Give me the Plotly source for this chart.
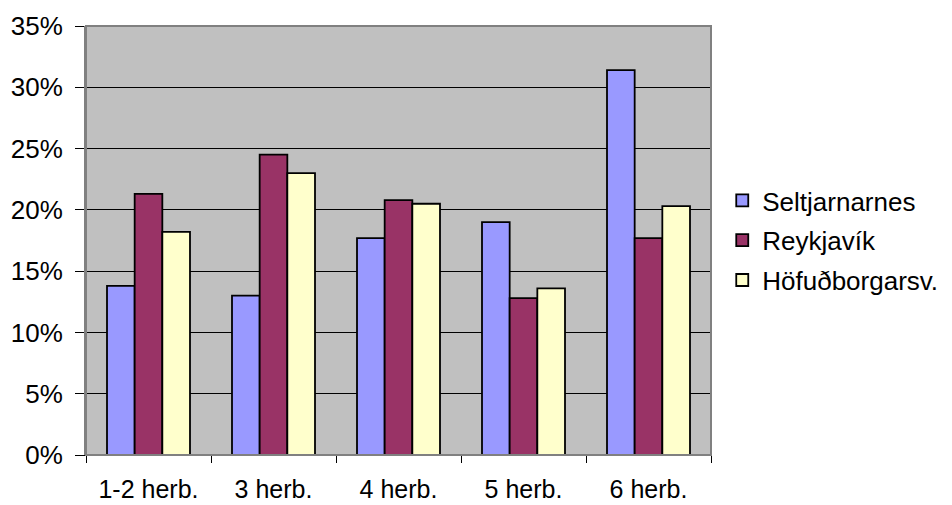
import plotly.graph_objects as go

categories = ["1-2 herb.", "3 herb.", "4 herb.", "5 herb.", "6 herb."]
seltjarnarnes = [13.8, 13.0, 17.7, 19.0, 31.4]
reykjavik = [21.3, 24.5, 20.8, 12.8, 17.7]
hofudborgarsv = [18.2, 23.0, 20.5, 13.6, 20.3]
y_ticks = [0, 5, 10, 15, 20, 25, 30, 35]
y_tick_labels = [f"{v}%" for v in y_ticks]

series = [
    ("Seltjarnarnes", seltjarnarnes, "#9999FF"),
    ("Reykjavík", reykjavik, "#993366"),
    ("Höfuðborgarsv.", hofudborgarsv, "#FFFFCC"),
]

fig = go.Figure()
for i, (name, vals, col) in enumerate(series):
    fig.add_trace(go.Bar(
        x=categories, y=vals, name=name, legendgroup=f"g{i}",
        marker=dict(color=col, line=dict(color="black", width=1.8)),
    ))

font_family = "Arial, Liberation Sans, sans-serif"
fig.update_layout(
    width=944, height=497,
    margin=dict(l=78, r=241, t=18, b=50, autoexpand=False),
    paper_bgcolor="white", plot_bgcolor="#C0C0C0",
    barmode="group", bargap=0.336, bargroupgap=0,
    font=dict(family=font_family, size=26, color="black"),
    showlegend=True,
    legend=dict(x=1.018, y=0.50, xanchor="left", yanchor="middle",
                font=dict(size=26), tracegroupgap=3, traceorder="grouped",
                bgcolor="rgba(0,0,0,0)"),
    xaxis=dict(showline=True, linecolor="black", linewidth=1, automargin=False,
               ticks="outside", tickson="boundaries", ticklen=7, tickcolor="black",
               showgrid=False, ticklabelstandoff=12, tickfont=dict(size=25)),
    yaxis=dict(range=[0, 35], tickvals=y_ticks, ticktext=y_tick_labels, automargin=False,
               showline=True, linecolor="#808080", linewidth=2,
               ticks="outside", ticklen=9, tickcolor="black",
               showgrid=True, gridcolor="black", gridwidth=1,
               zeroline=False, ticklabelstandoff=7, tickfont=dict(size=26)),
    shapes=[dict(type="rect", xref="paper", yref="paper", x0=0, x1=1, y0=0, y1=1,
                 line=dict(color="#808080", width=2), layer="above")],
)
fig.write_html("out.html")
